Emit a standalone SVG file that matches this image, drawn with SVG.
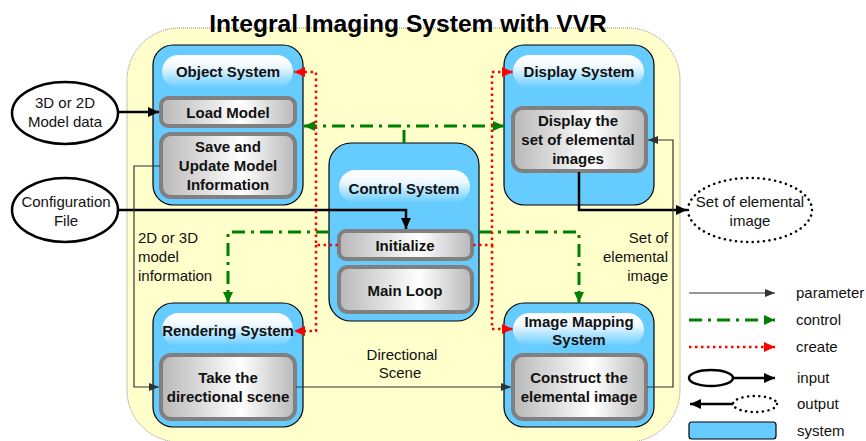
<svg xmlns="http://www.w3.org/2000/svg" width="866" height="441" viewBox="0 0 866 441">
<defs>
<linearGradient id="hdr" x1="0" y1="0" x2="0" y2="1">
<stop offset="0" stop-color="#FFFFFF"/>
<stop offset="0.35" stop-color="#F0F9FF"/>
<stop offset="1" stop-color="#66CCFF"/>
</linearGradient>
<linearGradient id="inner" x1="0" y1="0" x2="1" y2="0">
<stop offset="0" stop-color="#B8B8B8"/>
<stop offset="0.6" stop-color="#FFFFFF"/>
<stop offset="1" stop-color="#B8B8B8"/>
</linearGradient>
<marker id="aBlack" markerUnits="userSpaceOnUse" markerWidth="12" markerHeight="12" refX="11" refY="6" orient="auto"><path d="M0,1 L11,6 L0,11 z" fill="#000"/></marker>
<marker id="aGray" markerUnits="userSpaceOnUse" markerWidth="10" markerHeight="10" refX="10" refY="5" orient="auto"><path d="M0,1 L10,5 L0,9 z" fill="#333"/></marker>
<marker id="aGreen" markerUnits="userSpaceOnUse" markerWidth="12" markerHeight="12" refX="11" refY="6" orient="auto-start-reverse"><path d="M0,1 L11,6 L0,11 z" fill="#008000"/></marker>
<marker id="aRed" markerUnits="userSpaceOnUse" markerWidth="12" markerHeight="12" refX="11" refY="6" orient="auto"><path d="M0,1 L11,6 L0,11 z" fill="#FF0000"/></marker>
</defs>
<style>
.sys{fill:#66CCFF;stroke:#000;stroke-width:1.2}
.hdr{fill:url(#hdr)}
.inn{fill:url(#inner);stroke:#808080;stroke-width:4}
.bt{font-family:"Liberation Sans",Arial,sans-serif;font-weight:bold;font-size:15px;fill:#111;text-anchor:middle}
.rt{font-family:"Liberation Sans",Arial,sans-serif;font-size:15px;fill:#111}
.ctr{text-anchor:middle}
.end{text-anchor:end}
.param{fill:none;stroke:#333;stroke-width:1.2}
.ctrl{fill:none;stroke:#008000;stroke-width:3;stroke-dasharray:13 6 3 6}
.create{fill:none;stroke:#FF0000;stroke-width:2.5;stroke-dasharray:2.5 3.5}
.io{fill:none;stroke:#000;stroke-width:2.5}
.ell{fill:#FFFFFF;stroke:#000;stroke-width:2.5}
.dots{fill:#FFFFFF;stroke:#000;stroke-width:2.5;stroke-dasharray:0.1 5.5;stroke-linecap:round}
</style>
<rect x="0" y="0" width="866" height="441" fill="#FFFFFF"/>
<rect id="frame" x="127" y="28" width="553" height="414" rx="52" fill="#FFFFCC" stroke="#888" stroke-width="1" stroke-dasharray="1 1"/>
<text x="408" y="32" font-family="'Liberation Sans',Arial,sans-serif" font-weight="bold" font-size="24.6" text-anchor="middle" fill="#000">Integral Imaging System with VVR</text>

<g id="object-system">
<rect class="sys" x="153" y="45" width="150" height="160" rx="20"/>
<rect class="hdr" x="162" y="55" width="131" height="33" rx="16.5"/>
<text class="bt" x="228" y="77">Object System</text>
<rect class="inn" x="161" y="98" width="134" height="28" rx="7"/>
<text class="bt" x="228" y="118">Load Model</text>
<rect class="inn" x="161" y="134" width="134" height="63" rx="10"/>
<text class="bt" x="228" y="152">Save and</text>
<text class="bt" x="228" y="171">Update Model</text>
<text class="bt" x="228" y="190">Information</text>
</g>

<g id="display-system">
<rect class="sys" x="504" y="45" width="150" height="160" rx="20"/>
<rect class="hdr" x="513" y="55" width="131" height="33" rx="16.5"/>
<text class="bt" x="579" y="77">Display System</text>
<rect class="inn" x="513" y="108" width="133" height="63" rx="10"/>
<text class="bt" x="578" y="126">Display the</text>
<text class="bt" x="578" y="145">set of elemental</text>
<text class="bt" x="578" y="164">images</text>
</g>

<g id="control-system">
<rect class="sys" x="329" y="143" width="150" height="178" rx="22"/>
<rect class="hdr" x="339" y="170" width="131" height="33" rx="16.5"/>
<text class="bt" x="404" y="194">Control System</text>
<rect class="inn" x="339" y="231" width="133" height="28" rx="7"/>
<text class="bt" x="405" y="251">Initialize</text>
<rect class="inn" x="339" y="267" width="133" height="45" rx="9"/>
<text class="bt" x="405" y="296">Main Loop</text>
</g>

<g id="rendering-system">
<rect class="sys" x="153" y="303" width="150" height="124" rx="20"/>
<rect class="hdr" x="162" y="313" width="131" height="33" rx="16.5"/>
<text class="bt" x="228" y="336">Rendering System</text>
<rect class="inn" x="161" y="355" width="134" height="64" rx="10"/>
<text class="bt" x="228" y="383">Take the</text>
<text class="bt" x="228" y="402">directional scene</text>
</g>

<g id="image-mapping-system">
<rect class="sys" x="504" y="303" width="150" height="124" rx="20"/>
<rect class="hdr" x="513" y="313" width="131" height="33" rx="16.5"/>
<text class="bt" x="579" y="327">Image Mapping</text>
<text class="bt" x="579" y="345">System</text>
<rect class="inn" x="513" y="355" width="133" height="64" rx="10"/>
<text class="bt" x="579" y="383">Construct the</text>
<text class="bt" x="579" y="402">elemental image</text>
</g>

<g id="model-data">
<ellipse class="ell" cx="65" cy="113" rx="53" ry="31"/>
<text class="rt ctr" x="65" y="108">3D or 2D</text>
<text class="rt ctr" x="65" y="127">Model data</text>
</g>

<g id="config-file">
<ellipse class="ell" cx="65" cy="210" rx="53" ry="32"/>
<text class="rt ctr" x="66" y="207">Configuration</text>
<text class="rt ctr" x="66" y="226">File</text>
</g>

<g id="elemental-output">
<ellipse class="dots" cx="750" cy="210" rx="62" ry="32"/>
<text class="rt ctr" x="750" y="207">Set of elemental</text>
<text class="rt ctr" x="750" y="226">image</text>
</g>

<g id="connectors">
<path class="io" d="M118,112 H159" marker-end="url(#aBlack)"/>
<path class="io" d="M118,210 H406 V229" marker-end="url(#aBlack)"/>
<path class="io" d="M579,172 V210 H687" marker-end="url(#aBlack)"/>
<path class="param" d="M160,166 H134 V387 H159" marker-end="url(#aGray)"/>
<path class="param" d="M296,387 H511" marker-end="url(#aGray)"/>
<path class="param" d="M647,387 H673 V140 H648" marker-end="url(#aGray)"/>
<path class="ctrl" d="M404,143 V126"/>
<path class="ctrl" d="M304,126 H504" marker-start="url(#aGreen)" marker-end="url(#aGreen)"/>
<path class="ctrl" d="M329,232 H228 V303" marker-end="url(#aGreen)"/>
<path class="ctrl" d="M479,232 H579 V303" marker-end="url(#aGreen)"/>
<path class="create" d="M338,245 H316 V72 H294" marker-end="url(#aRed)"/>
<path class="create" d="M316,245 V331 H294" marker-end="url(#aRed)"/>
<path class="create" d="M473,245 H492 V72 H513" marker-end="url(#aRed)"/>
<path class="create" d="M492,245 V329 H513" marker-end="url(#aRed)"/>
</g>

<g id="labels">
<text class="rt" x="138" y="243">2D or 3D</text>
<text class="rt" x="138" y="262">model</text>
<text class="rt" x="138" y="281">information</text>
<text class="rt end" x="668" y="243">Set of</text>
<text class="rt end" x="668" y="262">elemental</text>
<text class="rt end" x="668" y="281">image</text>
<text class="rt ctr" x="402" y="360">Directional</text>
<text class="rt ctr" x="400" y="378">Scene</text>
</g>

<g id="legend">
<path class="param" d="M689,293 H775" marker-end="url(#aGray)"/>
<text class="rt" x="796" y="298">parameter</text>
<path class="ctrl" d="M689,320 H775" marker-end="url(#aGreen)"/>
<text class="rt" x="796" y="325">control</text>
<path class="create" d="M689,347 H775" marker-end="url(#aRed)"/>
<text class="rt" x="796" y="352">create</text>
<ellipse class="ell" cx="711" cy="378" rx="22" ry="8"/>
<path class="io" d="M733,378 H775" marker-end="url(#aBlack)"/>
<text class="rt" x="797" y="383">input</text>
<ellipse class="dots" cx="755" cy="404" rx="22" ry="8"/>
<path class="io" d="M733,404 H690" marker-end="url(#aBlack)"/>
<text class="rt" x="797" y="409">output</text>
<rect class="sys" x="689" y="422" width="87" height="17" rx="3"/>
<text class="rt" x="797" y="436">system</text>
</g>
</svg>
